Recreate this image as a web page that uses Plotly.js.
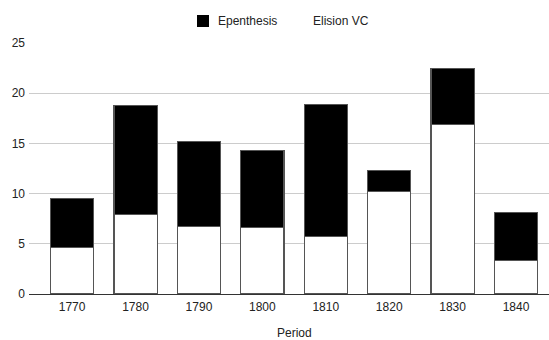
<!DOCTYPE html>
<html>
<head>
<meta charset="utf-8">
<script src="https://cdn.plot.ly/plotly-3.0.1.min.js"></script>
<style>
  html, body { margin: 0; padding: 0; background: #fff; }
  #chart { width: 549px; height: 340px; }
</style>
</head>
<body>
<div id="chart"></div>
<script>
// Periods (decades) on the x axis
const periods = ['1770', '1780', '1790', '1800', '1810', '1820', '1830', '1840'];
// Stacked series: Elision VC at the bottom, Epenthesis on top
const elisionVC = [4.6, 7.9, 6.7, 6.6, 5.7, 10.2, 16.9, 3.3];
const epenthesis = [4.9, 10.9, 8.5, 7.7, 13.2, 2.1, 5.6, 4.8];
const yTicks = [0, 5, 10, 15, 20, 25];
const seriesNames = ['Epenthesis', 'Elision VC'];
const seriesColors = ['#000000', '#ffffff'];
const xTitle = 'Period';

const font = 'Liberation Sans, Arial, sans-serif';
const textColor = '#222';
const outline = { color: '#555', width: 1.2 };

// plot area in pixels (for placing the legend and axis title around it)
const W = 549, H = 340;
const M = { l: 29, r: 0, t: 43, b: 46 };
const plotW = W - M.l - M.r, plotH = H - M.t - M.b;
const px2x = px => (px - M.l) / plotW;
const px2y = py => (H - M.b - py) / plotH;

const traces = [
  {
    type: 'bar', name: seriesNames[1], x: periods, y: elisionVC,
    marker: { color: seriesColors[1], line: outline },
    width: 0.68, hoverinfo: 'x+y+name'
  },
  {
    type: 'bar', name: seriesNames[0], x: periods, y: epenthesis,
    marker: { color: seriesColors[0], line: outline },
    width: 0.68, hoverinfo: 'x+y+name'
  }
];

// legend drawn above the chart: a swatch plus label per series
const legendLeft = [197, 292];
const legendCenterY = 21;
const shapes = [], annotations = [];
seriesNames.forEach((name, i) => {
  if (seriesColors[i] !== '#ffffff') {
    shapes.push({
      type: 'rect', xref: 'paper', yref: 'paper',
      x0: px2x(legendLeft[i]), x1: px2x(legendLeft[i] + 12),
      y0: px2y(legendCenterY + 6), y1: px2y(legendCenterY - 6),
      fillcolor: seriesColors[i], line: { width: 0 }
    });
  }
  annotations.push({
    xref: 'paper', yref: 'paper', x: px2x(legendLeft[i] + 19), y: px2y(legendCenterY),
    xanchor: 'left', yanchor: 'middle', showarrow: false, text: name,
    font: { family: font, size: 12, color: textColor }
  });
});

// x-axis title, centred under the bars
annotations.push({
  xref: 'paper', yref: 'paper', x: px2x(294), y: px2y(332.5),
  xanchor: 'center', yanchor: 'middle', showarrow: false, text: xTitle,
  borderpad: 0, borderwidth: 0,
  font: { family: font, size: 12, color: textColor }
});

const layout = {
  width: W, height: H,
  margin: M,
  paper_bgcolor: '#fff', plot_bgcolor: '#fff',
  barmode: 'stack',
  font: { family: font, size: 12, color: textColor },
  showlegend: false,
  shapes: shapes,
  annotations: annotations,
  xaxis: {
    type: 'category', categoryorder: 'array', categoryarray: periods,
    range: [-0.68, 7.52],
    showgrid: false, zeroline: false, showline: false, ticks: '',
    ticklabelstandoff: 4,
    tickfont: { family: font, size: 12, color: textColor },
    fixedrange: true
  },
  yaxis: {
    range: [0, 25], tickvals: yTicks, ticktext: yTicks.map(String),
    showgrid: true, gridcolor: '#cccccc', gridwidth: 1,
    zeroline: true, zerolinecolor: '#333', zerolinewidth: 1,
    showline: false, ticks: '',
    ticklabelstandoff: 3,
    tickfont: { family: font, size: 12, color: textColor },
    fixedrange: true
  }
};

Plotly.newPlot('chart', traces, layout, { displayModeBar: false, staticPlot: true });
</script>
</body>
</html>
